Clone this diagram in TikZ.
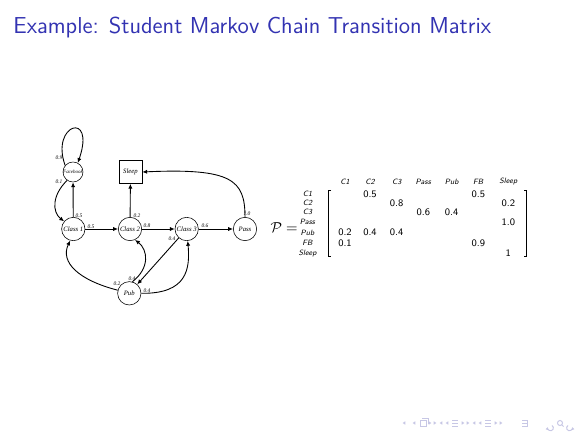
\documentclass[tikz,border=0pt]{standalone}
\usetikzlibrary{arrows.meta}
\usepackage{amsmath}
\usepackage{fontspec}
\newfontfamily\tnr{Liberation Serif}
\definecolor{titleblue}{rgb}{0.2,0.2,0.7}
\definecolor{navcol}{rgb}{0.78,0.78,0.9}
\begin{document}
\begin{tikzpicture}[x=0.625pt,y=-0.625pt,
  state/.style={draw,circle,line width=0.35pt,inner sep=0pt,minimum size=14.6pt,font=\tnr\fontsize{4.2}{5}\selectfont\itshape},
  fbstate/.style={state,minimum size=12.5pt,font=\tnr\fontsize{3.1}{4}\selectfont\itshape},
  sqstate/.style={draw,rectangle,line width=0.35pt,inner sep=0pt,minimum size=14.4pt,font=\tnr\fontsize{4.2}{5}\selectfont\itshape},
  edge/.style={line width=0.55pt,-{Latex[length=3pt,width=2.6pt]}},
  elab/.style={inner sep=0pt,font=\tnr\fontsize{3.4}{4}\selectfont\itshape},
  hdr/.style={inner sep=0pt,font=\fontsize{4.8}{5}\sffamily\itshape},
  rlab/.style={inner sep=0pt,font=\fontsize{4.8}{5}\sffamily\itshape},
  val/.style={inner sep=0pt,font=\fontsize{6.2}{7}\sffamily},
  nav/.style={fill=navcol,draw=none}
]
\useasboundingbox (0,0) rectangle (580,435);
\fill[white] (0,0) rectangle (580,435);
\node[anchor=base west,inner sep=0pt,text=titleblue,font=\fontsize{14.4}{17}\sffamily] (title) at (13,33) {Example: Student Markov Chain Transition Matrix};

% states
\node[fbstate] (fb) at (73,172) {Facebook};
\node[sqstate] (sleep) at (130.5,172) {Sleep};
\node[state] (c1) at (73.3,229) {Class 1};
\node[state] (c2) at (130,229) {Class 2};
\node[state] (c3) at (186.7,229) {Class 3};
\node[state] (pass) at (245,229) {Pass};
\node[state] (pub) at (129.3,293.3) {Pub};

% edges
\draw[edge] (fb.140) .. controls (50,124) and (96,110) .. (fb.62);
\draw[edge] (fb.235) .. controls (52,195) and (52,212) .. (c1.140);
\draw[edge] (c1) -- (fb);
\draw[edge] (c1) -- (c2);
\draw[edge] (c2) -- (sleep);
\draw[edge] (c2) -- (c3);
\draw[edge] (c3) -- (pass);
\draw[edge] (pass.north) .. controls (245,180) and (232,168) .. (sleep.east);
\draw[edge] (c3) -- (pub);
\draw[edge] (pub.165) .. controls (78,280) and (60,262) .. (c1.255);
\draw[edge] (pub.75) .. controls (150,268) and (148,250) .. (c2.295);
\draw[edge] (pub.east) .. controls (188,294) and (190,268) .. (c3.275);

% edge labels
\node[elab] (l1) at (59,158) {0.9};
\node[elab] (l2) at (59,182) {0.1};
\node[elab] (l3) at (79,216) {0.5};
\node[elab] (l4) at (91,227) {0.5};
\node[elab] (l5) at (137,216) {0.2};
\node[elab] (l6) at (147,226) {0.8};
\node[elab] (l7) at (205,226) {0.6};
\node[elab] (l8) at (247,214) {1.0};
\node[elab] (l9) at (172,239) {0.4};
\node[elab] (l10) at (117,284) {0.2};
\node[elab] (l11) at (132,279) {0.4};
\node[elab] (l12) at (147,291) {0.4};

% matrix
\node[inner sep=0pt,anchor=east,font=\fontsize{9}{10}\selectfont] (peq) at (298,228) {$\mathcal{P} =$};
\node[hdr] (h1) at (345,181.7) {C1};
\node[hdr] (h2) at (370,181.7) {C2};
\node[hdr] (h3) at (396.7,181.7) {C3};
\node[hdr] (h4) at (423.3,181.7) {Pass};
\node[hdr] (h5) at (451.7,181.7) {Pub};
\node[hdr] (h6) at (478.3,181.7) {FB};
\node[hdr] (h7) at (508.3,181.7) {Sleep};
\node[rlab] (r1) at (307.5,194.3) {C1};
\node[rlab] (r2) at (307.5,203.3) {C2};
\node[rlab] (r3) at (307.5,212.3) {C3};
\node[rlab] (r4) at (307.5,222) {Pass};
\node[rlab] (r5) at (307.5,232.7) {Pub};
\node[rlab] (r6) at (307.5,243.3) {FB};
\node[rlab] (r7) at (307.5,253.3) {Sleep};
\draw[line width=0.4pt] (331,190) -- (328.3,190) -- (328.3,256.7) -- (331,256.7);
\draw[line width=0.4pt] (524,190) -- (526.7,190) -- (526.7,256.7) -- (524,256.7);
\node[val] (v12) at (370,194.3) {0.5};
\node[val] (v16) at (478.3,194.3) {0.5};
\node[val] (v23) at (396.7,203.3) {0.8};
\node[val] (v27) at (508.3,203.3) {0.2};
\node[val] (v34) at (423.3,212.3) {0.6};
\node[val] (v35) at (451.7,212.3) {0.4};
\node[val] (v47) at (508.3,222) {1.0};
\node[val] (v51) at (345,232.7) {0.2};
\node[val] (v52) at (370,232.7) {0.4};
\node[val] (v53) at (396.7,232.7) {0.4};
\node[val] (v61) at (345,243.3) {0.1};
\node[val] (v66) at (478.3,243.3) {0.9};
\node[val] (v77) at (508.3,253.3) {1};

% navigation symbols
\foreach \x/\d in {404/-1,414/-1,430/1,435/1,441/-1,447/-1,463/1,468/1,474/-1,480/-1,496/1,501/1}{
  \fill[nav] (\x+\d*1.3,423) -- (\x-\d*1.3,421.3) -- (\x-\d*1.3,424.7) -- cycle;}
\draw[navcol,line width=0.6pt] (420,420) rectangle (426,426);
\draw[navcol,line width=0.6pt] (422,418.5) -- (428,418.5) -- (428,424);
\foreach \x in {455,488,525}{
  \draw[navcol,line width=0.6pt] (\x-3,420) -- (\x+3,420) (\x-3,423) -- (\x+3,423) (\x-3,426) -- (\x+3,426);}
\draw[navcol,line width=0.6pt] (527,420) -- (527,426);
\draw[navcol,line width=0.6pt,-{Latex[length=1.8pt,width=2pt]}] (552,425.5) arc (-60:200:2.8);
\draw[navcol,line width=0.6pt] (560,423) circle (2.5) (562,425) -- (563.5,426.5);
\draw[navcol,line width=0.6pt,-{Latex[length=1.8pt,width=2pt]}] (568,425.5) arc (240:-20:2.8);
\end{tikzpicture}
\end{document}
